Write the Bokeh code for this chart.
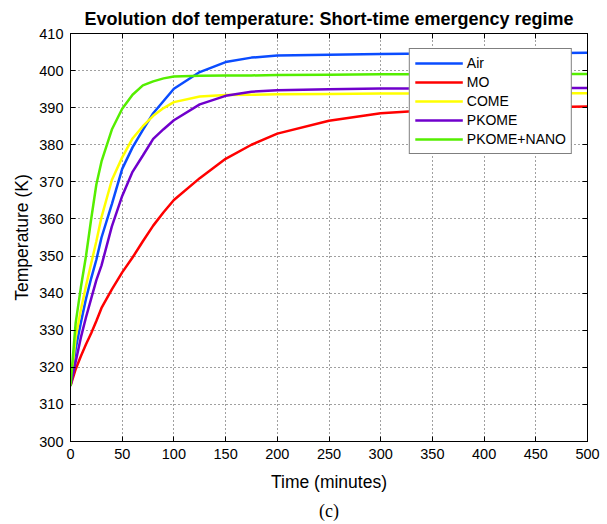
from bokeh.plotting import figure
from bokeh.models import LinearAxis, Range1d, Title, Legend, LegendItem, FixedTicker
from bokeh.embed import file_html
from bokeh.resources import INLINE

time_min = [0, 5, 10, 15, 20, 25, 30, 40, 50, 60, 70, 80, 90, 100, 125, 150, 175, 200, 250, 300, 350, 400, 450, 500]

air = [315, 325, 332, 338.5, 344, 349, 355, 364, 373.5, 379.3, 384, 388.5, 391.8, 395.1,
       399.6, 402.3, 403.5, 404.1, 404.3, 404.5, 404.6, 404.7, 404.7, 404.8]
mo = [315, 319.5, 323, 326.2, 329.2, 332.5, 336, 341, 345.6, 349.6, 354, 358.2, 361.8, 365.1,
      371, 376.2, 380, 383, 386.5, 388.5, 389.4, 389.9, 390.1, 390.3]
come = [315, 328, 335.5, 342, 348, 354, 360.5, 370.5, 376.6, 381.7, 385, 387.8, 389.9, 391.5,
        393, 393.4, 393.5, 393.6, 393.7, 393.8, 393.8, 393.9, 393.9, 393.9]
pkome = [315, 321.5, 328, 333.5, 338.5, 343.5, 347.5, 358, 366.2, 372.7, 377.1, 381.6, 384.2, 386.6,
         390.9, 393.2, 394.3, 394.7, 395, 395.2, 395.2, 395.3, 395.3, 395.3]
pkome_nano = [315, 332, 341.5, 350, 360, 369.3, 375.5, 384.1, 389.7, 393.5, 396, 397.1, 397.9, 398.4,
              398.6, 398.7, 398.7, 398.8, 398.9, 399, 399, 399.1, 399.1, 399.1]

series_names = ["Air", "MO", "COME", "PKOME", "PKOME+NANO"]
series_values = [air, mo, come, pkome, pkome_nano]
series_colors = ["#0a4cff", "#ff0000", "#ffff00", "#7000cc", "#55ee00"]

x_ticks = list(range(0, 501, 50))
y_ticks = list(range(300, 411, 10))

FONT = "Liberation Sans"

p = figure(width=607, height=524, output_backend="svg", toolbar_location=None,
           x_range=Range1d(0, 500), y_range=Range1d(300, 410),
           min_border_left=70, min_border_right=20, min_border_top=33, min_border_bottom=83)

p.title.text = "Evolution dof temperature: Short-time emergency regime"
p.title.text_font = FONT
p.title.text_font_size = "18px"
p.title.text_font_style = "bold"
p.title.align = "center"
p.title.text_color = "#000000"

p.background_fill_color = "white"
p.border_fill_color = "white"
p.outline_line_color = "#000000"
p.outline_line_width = 1

for ax in [p.xaxis[0], p.yaxis[0]]:
    ax.major_tick_in = 5
    ax.major_tick_out = 0
    ax.minor_tick_in = 0
    ax.minor_tick_out = 0
    ax.axis_line_color = "#000000"
    ax.major_tick_line_color = "#000000"
    ax.major_label_text_font = FONT
    ax.major_label_text_font_size = "14.5px"
    ax.major_label_text_color = "#000000"
    ax.axis_label_text_font = FONT
    ax.axis_label_text_font_size = "17.5px"
    ax.axis_label_text_font_style = "normal"
    ax.axis_label_text_color = "#000000"

p.xaxis[0].ticker = FixedTicker(ticks=x_ticks)
p.yaxis[0].ticker = FixedTicker(ticks=y_ticks)
p.xaxis[0].axis_label = "Time (minutes)"
p.yaxis[0].axis_label = "Temperature (K)"
p.xaxis[0].major_label_standoff = 7
p.yaxis[0].major_label_standoff = 7
p.xaxis[0].axis_label_standoff = 10
p.yaxis[0].axis_label_standoff = 4

for loc, ticks in [("right", y_ticks), ("above", x_ticks)]:
    ax = LinearAxis(ticker=FixedTicker(ticks=ticks))
    ax.major_tick_in = 5
    ax.major_tick_out = 0
    ax.minor_tick_in = 0
    ax.minor_tick_out = 0
    ax.major_label_overrides = {t: "" for t in ticks}
    ax.major_label_standoff = 0
    ax.axis_line_color = "#000000"
    ax.major_tick_line_color = "#000000"
    p.add_layout(ax, loc)

p.xgrid.ticker = FixedTicker(ticks=x_ticks)
p.ygrid.ticker = FixedTicker(ticks=y_ticks)
for g in [p.xgrid[0], p.ygrid[0]]:
    g.grid_line_color = "#000000"
    g.grid_line_alpha = 0.75
    g.grid_line_dash = "1 3"
    g.grid_line_width = 1

items = []
for name, vals, col in zip(series_names, series_values, series_colors):
    r = p.line(time_min, vals, line_color=col, line_width=2.5)
    items.append(LegendItem(label=name, renderers=[r]))

legend = Legend(items=items, location="top_right")
legend.label_text_font = FONT
legend.label_text_font_size = "14px"
legend.label_text_color = "#000000"
legend.glyph_width = 48
legend.glyph_height = 18
legend.label_height = 18
legend.label_standoff = 4
legend.spacing = 1
legend.padding = 5
legend.margin = 15
legend.border_line_color = "#000000"
legend.border_line_width = 1
legend.background_fill_color = "white"
legend.background_fill_alpha = 1
p.add_layout(legend)

cap = Title(text="(c)", align="center", text_font="Liberation Serif",
            text_font_size="18px", text_font_style="normal", text_color="#000000",
            standoff=8)
p.add_layout(cap, "below")

open("out.html", "w").write(file_html(p, INLINE))
